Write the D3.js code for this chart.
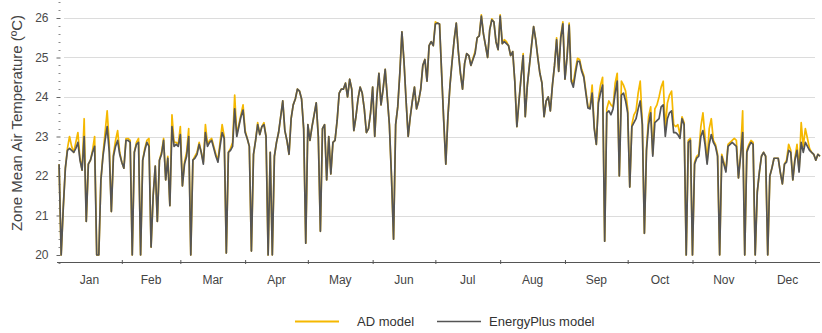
<!DOCTYPE html>
<html>
<head>
<meta charset="utf-8">
<script src="https://cdn.jsdelivr.net/npm/d3@7"></script>
<style>
  html, body { margin: 0; padding: 0; background: #fff; }
  svg { display: block; font-family: "Liberation Sans", Arial, sans-serif; }
</style>
</head>
<body>
<svg id="chart" width="822" height="333"></svg>
<script>
// Month labels along the time axis
const monthLabels = ["Jan", "Feb", "Mar", "Apr", "May", "Jun", "Jul", "Aug", "Sep", "Oct", "Nov", "Dec"];

// Temperature ticks (°C)
const yTicks = [20, 21, 22, 23, 24, 25, 26];

// Daily zone mean air temperature, EnergyPlus model (°C), one row per month
const energyPlus = [
  22.3, 20.0, 21.2, 22.2, 22.65, 22.7, 22.65, 22.6, 22.7, 22.85, 22.4, 22.15, 23.0, 20.85, 22.3, 22.4, 22.6, 22.75, 20.0, 20.0, 21.9, 22.5, 22.9, 23.25, 22.6, 21.1, 22.5, 22.75, 22.9, 22.55, 22.35,
  22.2, 22.9, 22.9, 22.85, 20.0, 22.6, 22.8, 22.85, 20.0, 22.4, 22.65, 22.85, 22.75, 20.2, 21.5, 22.25, 20.85, 22.4, 22.55, 22.9, 21.9, 22.45, 21.25, 23.25, 22.75, 22.8, 22.75, 23.05,
  21.75, 22.3, 22.5, 23.0, 20.0, 22.4, 22.45, 22.55, 22.8, 22.6, 22.3, 23.1, 22.75, 22.85, 22.9, 22.7, 22.5, 22.35, 22.75, 23.1, 22.95, 20.05, 22.6, 22.65, 22.75, 23.7, 23.0, 23.25, 23.5, 23.67, 23.1,
  22.95, 22.75, 20.1, 22.55, 22.9, 23.3, 23.05, 23.25, 23.3, 23.0, 20.0, 22.6, 20.0, 22.5, 22.85, 23.1, 23.5, 23.9, 23.15, 22.9, 22.55, 23.45, 23.8, 23.95, 24.2, 24.15, 23.95, 23.2, 20.3, 23.3,
  22.9, 23.25, 23.55, 23.85, 23.0, 20.6, 23.2, 23.3, 21.9, 23.0, 22.05, 22.85, 22.9, 23.4, 24.1, 24.2, 24.2, 24.35, 24.0, 24.45, 24.2, 23.15, 23.5, 23.95, 24.25, 24.1, 23.7, 23.1, 23.2, 23.6, 24.25,
  23.0, 24.0, 24.6, 23.8, 24.2, 24.7, 24.0, 23.3, 22.0, 20.4, 23.3, 23.75, 24.6, 25.65, 24.9, 23.9, 23.0, 23.5, 23.9, 24.25, 23.7, 23.9, 24.2, 24.8, 24.95, 24.4, 25.3, 25.4, 25.3, 25.85,
  25.87, 25.85, 24.6, 23.4, 22.3, 23.5, 24.3, 24.9, 25.45, 25.87, 25.15, 24.6, 24.2, 24.85, 25.1, 25.05, 24.8, 24.95, 25.1, 25.5, 25.55, 26.05, 25.6, 25.3, 25.0, 25.7, 25.95, 25.9, 25.4, 25.2, 26.05,
  25.35, 25.4, 25.35, 25.3, 25.05, 25.15, 24.4, 23.25, 23.9, 24.5, 25.05, 23.5, 24.3, 24.8, 25.3, 25.78, 25.45, 25.0, 24.6, 24.35, 23.5, 23.9, 24.0, 23.65, 24.3, 24.8, 25.45, 24.65, 25.5, 25.85, 24.45,
  25.0, 25.82, 24.4, 24.25, 24.6, 24.9, 24.9, 24.65, 24.5, 24.1, 23.72, 23.7, 24.1, 23.2, 22.8, 23.85, 24.1, 24.3, 20.35, 23.6, 23.65, 23.55, 23.7, 24.1, 24.4, 22.0, 24.05, 24.1, 23.9, 23.6,
  21.72, 23.25, 23.35, 23.45, 23.7, 23.9, 23.3, 20.55, 22.65, 23.3, 23.6, 22.5, 23.35, 23.4, 23.45, 23.75, 23.8, 23.0, 23.45, 23.6, 23.65, 23.1, 23.1, 23.05, 22.95, 23.45, 23.3, 20.0, 22.85, 22.9, 20.0,
  22.3, 22.45, 22.5, 23.0, 23.15, 22.8, 22.3, 22.8, 23.05, 22.85, 22.75, 22.5, 20.0, 22.5, 22.3, 22.1, 22.75, 22.8, 22.85, 22.8, 22.75, 21.95, 22.5, 23.1, 20.0, 22.6, 22.75, 22.85, 22.8, 20.0,
  21.6, 22.1, 22.5, 22.6, 22.5, 20.0, 22.0, 22.2, 22.45, 22.45, 22.45, 22.1, 21.8, 22.3, 22.35, 22.65, 22.6, 21.9, 22.4, 22.65, 22.1, 22.85, 22.6, 22.85, 22.75, 22.65, 22.6, 22.55, 22.4, 22.55, 22.5
];

// Daily zone mean air temperature, AD model (°C), one row per month
const adModel = [
  22.3, 20.0, 21.2, 22.2, 22.7, 23.0, 22.75, 22.6, 22.85, 23.1, 22.45, 22.15, 23.45, 20.85, 22.3, 22.4, 22.65, 23.0, 20.0, 20.0, 21.9, 22.55, 23.1, 23.65, 22.8, 21.1, 22.55, 22.9, 23.15, 22.6, 22.35,
  22.2, 22.95, 22.95, 22.9, 20.0, 22.6, 22.85, 22.95, 20.0, 22.4, 22.7, 22.9, 22.95, 20.2, 21.5, 22.25, 20.85, 22.4, 22.6, 22.95, 21.9, 22.5, 21.25, 23.55, 22.85, 22.85, 22.8, 23.25,
  21.75, 22.35, 22.6, 23.2, 20.0, 22.4, 22.5, 22.6, 22.85, 22.6, 22.35, 23.3, 22.8, 22.9, 22.95, 22.75, 22.55, 22.4, 22.85, 23.3, 23.0, 20.05, 22.6, 22.7, 22.85, 24.05, 23.05, 23.3, 23.55, 23.8, 23.15,
  22.95, 22.75, 20.1, 22.55, 22.9, 23.35, 23.05, 23.25, 23.35, 23.0, 20.0, 22.6, 20.0, 22.5, 22.85, 23.1, 23.5, 23.9, 23.15, 22.9, 22.55, 23.45, 23.8, 23.95, 24.2, 24.15, 23.95, 23.2, 20.3, 23.3,
  22.9, 23.25, 23.55, 23.85, 23.0, 20.6, 23.2, 23.3, 21.9, 23.0, 22.05, 22.85, 22.9, 23.4, 24.1, 24.2, 24.2, 24.35, 24.0, 24.45, 24.2, 23.15, 23.5, 23.95, 24.25, 24.1, 23.7, 23.1, 23.2, 23.6, 24.25,
  23.0, 24.0, 24.6, 23.8, 24.2, 24.7, 24.0, 23.3, 22.0, 20.4, 23.3, 23.75, 24.6, 25.65, 24.9, 23.9, 23.0, 23.5, 23.9, 24.25, 23.7, 23.9, 24.2, 24.8, 24.95, 24.4, 25.3, 25.4, 25.3, 25.9,
  25.87, 25.85, 24.6, 23.4, 22.3, 23.5, 24.3, 24.9, 25.45, 25.87, 25.15, 24.6, 24.2, 24.85, 25.1, 25.05, 24.8, 24.98, 25.15, 25.5, 25.55, 26.08, 25.6, 25.3, 25.0, 25.7, 25.98, 25.9, 25.4, 25.2, 26.08,
  25.35, 25.45, 25.4, 25.3, 25.05, 25.15, 24.4, 23.25, 23.9, 24.5, 25.1, 23.5, 24.3, 24.8, 25.3, 25.78, 25.45, 25.0, 24.6, 24.35, 23.5, 23.9, 24.0, 23.65, 24.3, 24.8, 25.5, 24.65, 25.55, 25.9, 24.45,
  25.05, 25.87, 24.45, 24.35, 24.7, 24.98, 24.95, 24.7, 24.55, 24.15, 23.75, 23.75, 24.3, 23.25, 22.8, 23.95, 24.3, 24.5, 20.35, 23.7, 23.9, 23.8, 23.75, 24.35, 24.6, 22.0, 24.4, 24.3, 24.15, 23.7,
  21.72, 23.3, 23.55, 23.65, 24.1, 24.4, 23.35, 20.55, 22.7, 23.5, 23.75, 22.55, 23.7, 23.8, 24.0, 24.25, 24.4, 23.2, 23.85, 24.05, 24.15, 23.3, 23.25, 23.3, 23.05, 23.5, 23.35, 20.0, 22.9, 22.95, 20.0,
  22.35, 22.5, 22.55, 23.25, 23.6, 23.0, 22.35, 23.2, 23.45, 22.9, 22.8, 22.55, 20.0, 22.55, 22.35, 22.15, 22.8, 22.85, 22.9, 22.95, 22.9, 21.95, 22.55, 23.65, 20.0, 22.65, 22.8, 22.9, 22.85, 20.0,
  21.6, 22.1, 22.5, 22.6, 22.5, 20.0, 22.0, 22.2, 22.45, 22.45, 22.45, 22.1, 21.8, 22.3, 22.4, 22.8, 22.65, 21.9, 22.45, 22.8, 22.15, 23.35, 22.75, 23.2, 22.95, 22.7, 22.6, 22.55, 22.4, 22.55, 22.5
];

const svg = d3.select("#chart");
const width = 822, height = 333;
svg.append("rect").attr("width", width).attr("height", height).attr("fill", "#fff");

const yearStart = new Date(Date.UTC(2023, 0, 1));
const yearEnd = new Date(Date.UTC(2024, 0, 1));
const x = d3.scaleUtc().domain([yearStart, yearEnd]).range([57, 820]);
const y = d3.scaleLinear().domain([20, 26]).range([255, 18]);

// Each daily value is reported at the end of its day
const dayEnd = i => d3.utcDay.offset(yearStart, i + 1);

const axisY = 262;
const axisX = 60;

// Horizontal gridlines
svg.append("g")
  .selectAll("line")
  .data(yTicks.slice(1))
  .join("line")
  .attr("x1", 64).attr("x2", 815)
  .attr("y1", d => Math.round(y(d)) + 0.5).attr("y2", d => Math.round(y(d)) + 0.5)
  .attr("stroke", "#dcdcdc").attr("stroke-width", 1);

// Vertical axis drawn as a column of small tick marks
const minorTicks = d3.range(-1, 33).map(k => 20 + k * 0.2).filter(v => Math.abs(v - Math.round(v)) > 1e-6);
svg.append("g")
  .selectAll("line")
  .data(minorTicks)
  .join("line")
  .attr("x1", axisX - 1.5).attr("x2", axisX + 0.5)
  .attr("y1", d => Math.round(y(d)) + 0.5).attr("y2", d => Math.round(y(d)) + 0.5)
  .attr("stroke", "#8a8a8a").attr("stroke-width", 1);

const yAxis = d3.axisLeft(y).tickValues(yTicks).tickSize(4).tickPadding(8).tickFormat(d3.format("d"));
const gy = svg.append("g").attr("transform", `translate(${axisX + 0.5},0)`).call(yAxis);
gy.select(".domain").remove();
gy.selectAll(".tick line").attr("stroke", "#666");
gy.selectAll(".tick text")
  .attr("fill", "#4a4a4a")
  .style("font-size", "12px")
  .style("font-family", "'Liberation Sans', Arial, sans-serif");

// Horizontal time axis with month boundaries
const monthStarts = d3.utcMonth.range(yearStart, yearEnd);
const xAxis = d3.axisBottom(x).tickValues(monthStarts.slice(1)).tickSize(4).tickFormat("");
const gx = svg.append("g").attr("transform", `translate(0,${axisY - 2})`).call(xAxis);
gx.select(".domain").remove();
gx.selectAll(".tick line").attr("stroke", "#555");
svg.append("line")
  .attr("x1", x(yearStart)).attr("x2", x(yearEnd))
  .attr("y1", axisY + 0.5).attr("y2", axisY + 0.5)
  .attr("stroke", "#555").attr("stroke-width", 1);

svg.append("g")
  .selectAll("text")
  .data(monthStarts)
  .join("text")
  .attr("x", (d, i) => (x(d) + x(d3.utcMonth.offset(d, 1))) / 2)
  .attr("y", 284)
  .attr("text-anchor", "middle")
  .attr("fill", "#444")
  .style("font-size", "12px")
  .text((d, i) => monthLabels[i]);

// Vertical axis title
svg.append("text")
  .attr("transform", "translate(22,123) rotate(-90)")
  .attr("text-anchor", "middle")
  .attr("fill", "#444")
  .style("font-size", "15px")
  .text("Zone Mean Air Temperature (ºC)");

// Series lines
const line = d3.line()
  .x((d, i) => x(dayEnd(i)))
  .y(d => y(d));

const adColor = "#f5b800";
const epColor = "#555555";

svg.append("path")
  .datum(adModel)
  .attr("fill", "none")
  .attr("stroke", adColor)
  .attr("stroke-width", 1.7)
  .attr("stroke-linejoin", "round")
  .attr("d", line);

svg.append("path")
  .datum(energyPlus)
  .attr("fill", "none")
  .attr("stroke", epColor)
  .attr("stroke-width", 1.7)
  .attr("stroke-linejoin", "round")
  .attr("d", line);

// Legend
const legendItems = [
  { label: "AD model", color: adColor, x: 295 },
  { label: "EnergyPlus model", color: epColor, x: 437 }
];
const lg = svg.append("g").selectAll("g").data(legendItems).join("g")
  .attr("transform", d => `translate(${d.x},321)`);
lg.append("line")
  .attr("x1", 0).attr("x2", 44)
  .attr("y1", 0.5).attr("y2", 0.5)
  .attr("stroke", d => d.color)
  .attr("stroke-width", d => d.color === adColor ? 2 : 1.5);
lg.append("text")
  .attr("x", d => d.color === adColor ? 62 : 52)
  .attr("y", 5)
  .attr("fill", "#333")
  .style("font-size", "13px")
  .text(d => d.label);
</script>
</body>
</html>
